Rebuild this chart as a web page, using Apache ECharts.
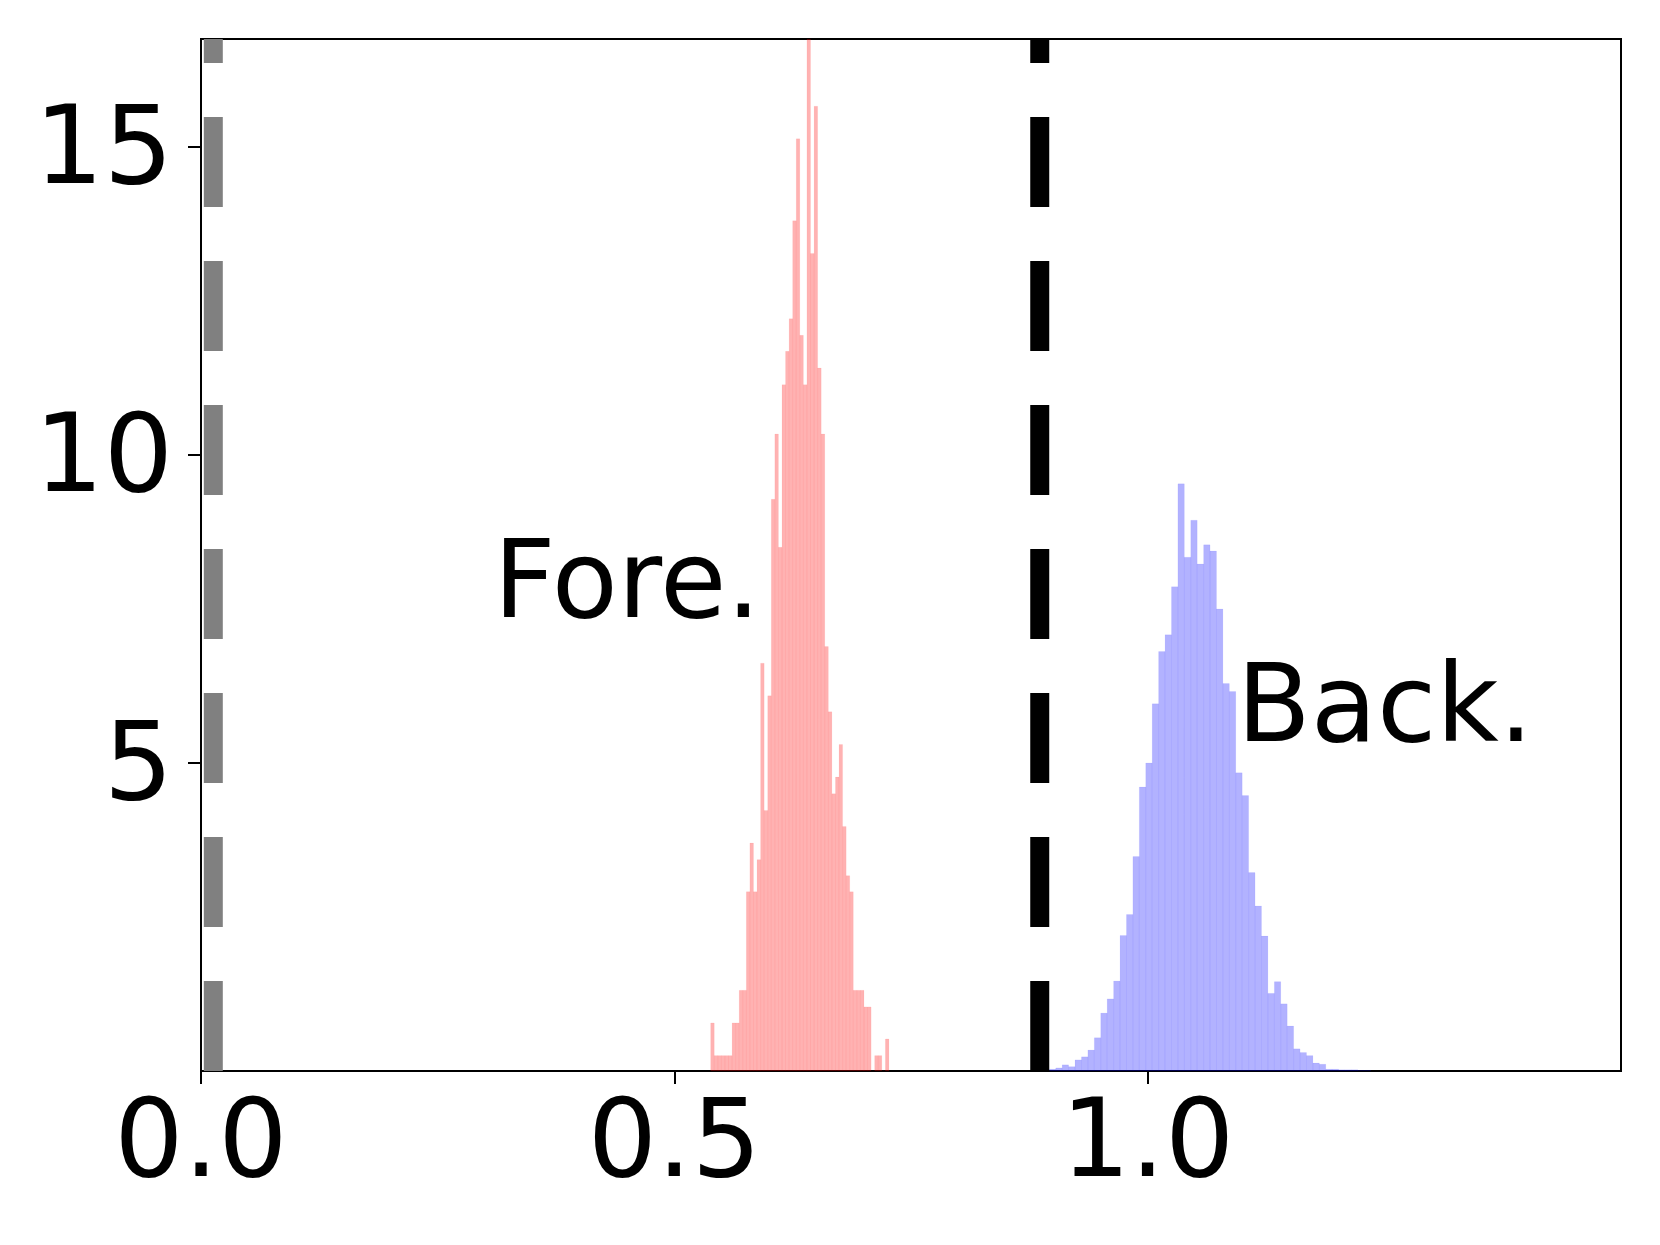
<!DOCTYPE html>
<html>
<head>
<meta charset="utf-8">
<script src="https://cdn.jsdelivr.net/npm/echarts@6/dist/echarts.min.js"></script>
<style>
html,body{margin:0;padding:0;background:#fff;}
#chart{width:1660px;height:1245px;}
</style>
</head>
<body>
<div id="chart"></div>
<script>
// ---- data ----
const xTicks = [0, 0.5, 1.0];
const yTicks = [5, 10, 15];
const foreRange = [0.5384, 0.7267];   // histogram bin range (50 bins)
const foreHeights = [0.78,0.25,0.25,0.25,0.25,0.25,0.78,0.78,1.31,1.31,
  2.91,3.70,2.91,3.43,6.62,4.23,6.09,9.28,10.34,8.50,
  11.14,11.68,12.21,13.80,15.13,11.94,11.14,17.2,13.27,15.66,
  11.41,10.34,6.89,5.83,4.50,4.77,5.30,3.97,3.17,2.91,
  1.31,1.31,1.31,1.04,1.04,0,0.25,0.25,0,0.52];
const backRange = [0.8961, 1.2357];
const backHeights = [0.03,0.05,0.10,0.07,0.18,0.23,0.34,0.54,0.94,1.17,
  1.46,2.20,2.54,3.48,4.61,5.00,5.96,6.81,7.08,7.86,
  9.53,8.34,8.94,8.23,8.54,8.44,7.50,6.29,6.16,4.84,
  4.47,3.22,2.68,2.19,1.26,1.45,1.09,0.73,0.36,0.30,
  0.25,0.13,0.11,0.03,0.03,0.02,0.02,0.02,0.01,0.01];
const grayLineX = 0.013;
const blackLineX = 0.886;
const labels = [
  {text: 'Fore.', x: 0.309, y: 7.83},
  {text: 'Back.', x: 1.094, y: 5.81}
];
const xMax = 1.5, yMax = 16.75;

function bins(range, heights) {
  const n = heights.length, w = (range[1] - range[0]) / n;
  return heights.map((h, i) => [range[0] + i * w, range[0] + (i + 1) * w, h]);
}

function histRender(fill, edge) {
  return function (params, api) {
    const p0 = api.coord([api.value(0), api.value(2)]);
    const p1 = api.coord([api.value(1), 0]);
    const shape = echarts.graphic.clipRectByRect(
      {x: p0[0], y: p0[1], width: p1[0] - p0[0], height: p1[1] - p0[1]},
      {x: params.coordSys.x, y: params.coordSys.y, width: params.coordSys.width, height: params.coordSys.height});
    if (!shape) return null;
    return {type: 'rect', shape: shape, style: {fill: fill, stroke: edge, lineWidth: 0.8}};
  };
}

const FONT = 'DejaVu Sans';
const TICK_FS = 109;
const chart = echarts.init(document.getElementById('chart'), null, {renderer: 'canvas'});
chart.setOption({
  animation: false,
  backgroundColor: '#fff',
  grid: {left: 201, top: 39, right: 39, bottom: 174, show: true, borderColor: '#000', borderWidth: 2, backgroundColor: 'transparent'},
  xAxis: {
    type: 'value', min: 0, max: xMax, splitLine: {show: false},
    axisLine: {show: true, onZero: false, lineStyle: {color: '#000', width: 2}},
    axisTick: {show: true, length: 13, lineStyle: {color: '#000', width: 2}, customValues: xTicks},
    axisLabel: {customValues: xTicks, color: '#000', fontFamily: FONT, fontSize: TICK_FS, lineHeight: TICK_FS, margin: 22,
      formatter: v => v.toFixed(1)}
  },
  yAxis: {
    type: 'value', min: 0, max: yMax, splitLine: {show: false},
    axisLine: {show: true, onZero: false, lineStyle: {color: '#000', width: 2}},
    axisTick: {show: true, length: 13, lineStyle: {color: '#000', width: 2}, customValues: yTicks},
    axisLabel: {customValues: yTicks, color: '#000', fontFamily: FONT, fontSize: TICK_FS, lineHeight: TICK_FS, margin: 28,
      formatter: v => '{t|' + v + '}',
      rich: {t: {color: '#000', fontFamily: FONT, fontSize: TICK_FS, lineHeight: TICK_FS, padding: [16, 0, 0, 0]}}}
  },
  series: [
    {type: 'custom', renderItem: histRender('rgba(255,0,0,0.3)', 'rgba(255,0,0,0.06)'), data: bins(foreRange, foreHeights),
      encode: {x: [0, 1], y: 2}, silent: true, z: 2},
    {type: 'custom', renderItem: histRender('rgba(0,0,255,0.3)', 'rgba(0,0,255,0.06)'), data: bins(backRange, backHeights),
      encode: {x: [0, 1], y: 2}, silent: true, z: 2},
    {type: 'line', data: [[grayLineX, 0], [grayLineX, yMax]], symbol: 'none', silent: true, z: 3,
      lineStyle: {color: '#808080', width: 19, type: [90, 54], cap: 'butt'}},
    {type: 'line', data: [[blackLineX, 0], [blackLineX, yMax]], symbol: 'none', silent: true, z: 3,
      lineStyle: {color: '#000', width: 19, type: [90, 54], cap: 'butt'}},
    {type: 'scatter', symbolSize: 0, silent: true, z: 4, itemStyle: {opacity: 1},
      data: labels.map(l => ({value: [l.x, l.y], name: l.text})),
      label: {show: true, position: [0, 0], align: 'left', verticalAlign: 'middle', opacity: 1,
        formatter: p => p.name, color: '#000', fontFamily: FONT, fontSize: 108}}
  ]
});
</script>
</body>
</html>
